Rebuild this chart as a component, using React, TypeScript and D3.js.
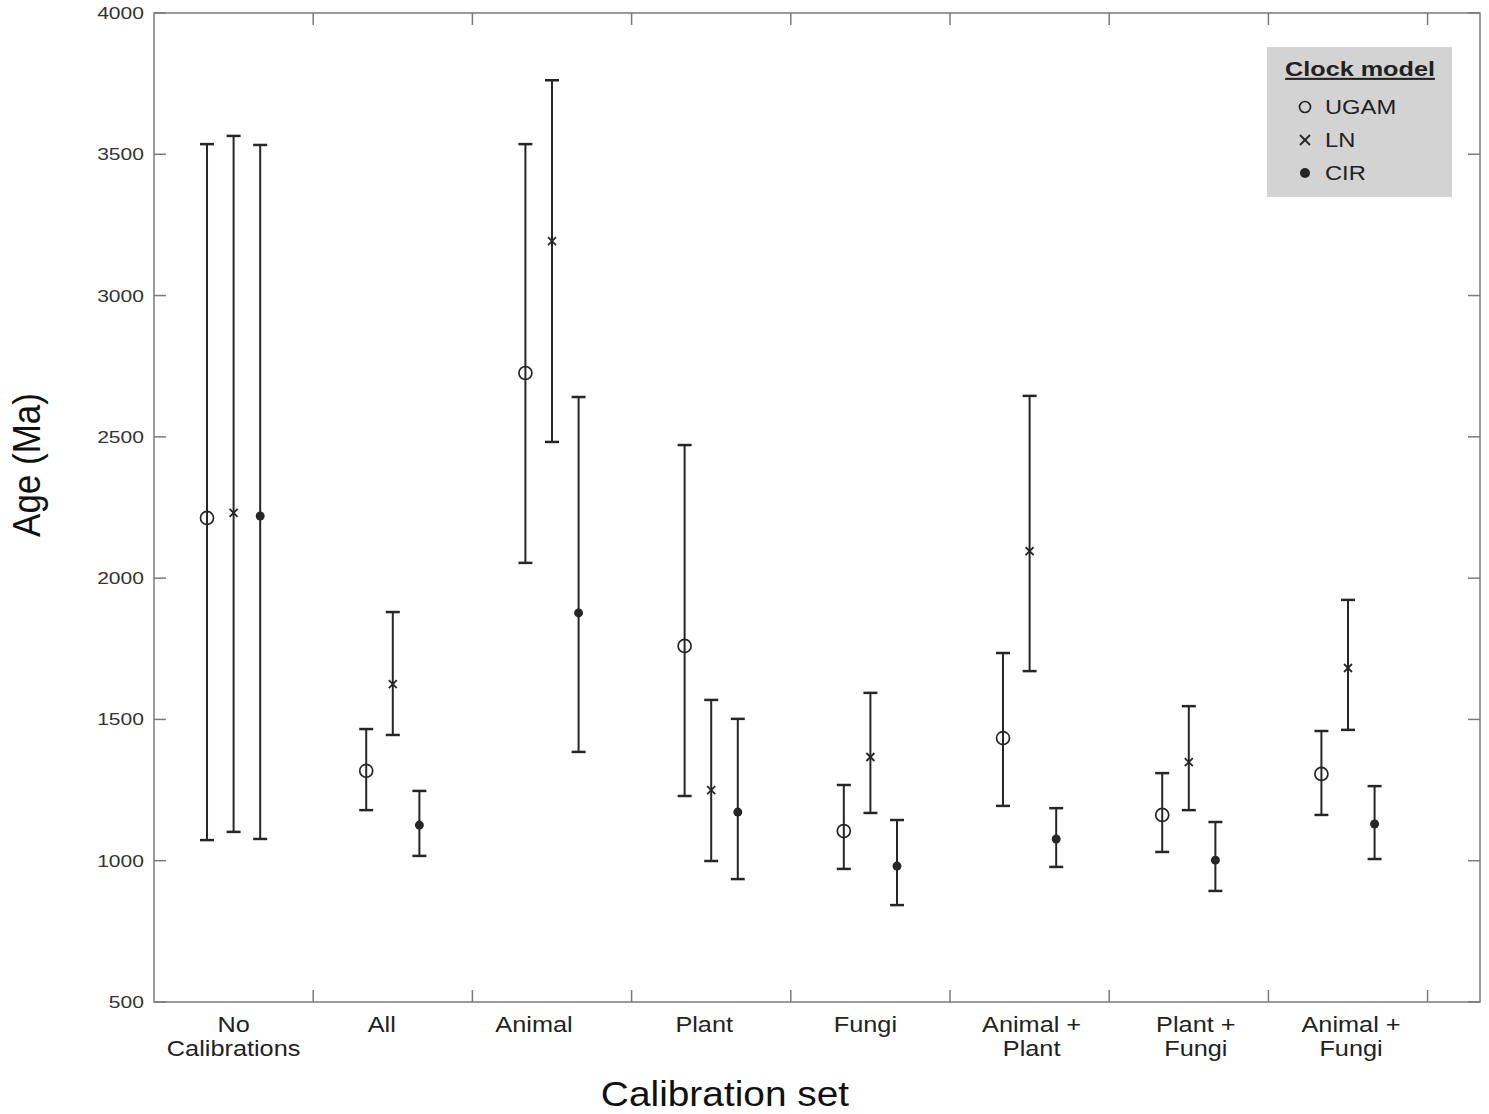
import React from "react";
import * as d3 from "d3";

const categories = [
  ["No", "Calibrations"],
  ["All"],
  ["Animal"],
  ["Plant"],
  ["Fungi"],
  ["Animal +", "Plant"],
  ["Plant +", "Fungi"],
  ["Animal +", "Fungi"],
];

const models = ["UGAM", "LN", "CIR"];

// median, upper, lower per category
const ugamMid = [2213, 1318, 2726, 1760, 1105, 1434, 1162, 1307];
const ugamHi = [3536, 1466, 3536, 2471, 1268, 1735, 1310, 1459];
const ugamLo = [1073, 1179, 2054, 1229, 971, 1194, 1031, 1162];

const lnMid = [2231, 1625, 3193, 1250, 1367, 2096, 1349, 1682];
const lnHi = [3565, 1880, 3762, 1569, 1594, 2645, 1547, 1923];
const lnLo = [1102, 1445, 2482, 999, 1169, 1671, 1179, 1463];

const cirMid = [2220, 1126, 1877, 1172, 981, 1077, 1002, 1130];
const cirHi = [3533, 1247, 2641, 1502, 1144, 1186, 1137, 1264];
const cirLo = [1077, 1017, 1385, 935, 843, 978, 893, 1006];

const yTicks = [500, 1000, 1500, 2000, 2500, 3000, 3500, 4000];

// layout: horizontal nudge (px) of each category label from its group centre
const labelNudge = [0, -11, -18, -7, -5, 2, 7, 3];

const W = 1489;
const H = 1114;
const L = 154, R = 1480, T = 13, B = 1002;
const AXIS = "#7a7a7a";
const INK = "#262626";
const FONT = "Arial, 'Liberation Sans', Helvetica, sans-serif";

function Txt(props: {
  x: number;
  y: number;
  sx?: number;
  size: number;
  anchor?: string;
  weight?: string;
  fill?: string;
  deco?: string;
  dy?: string;
  children: React.ReactNode;
}) {
  const { x, y, sx = 1.15, size, anchor = "start", weight = "normal", fill = "#222", deco, dy } = props;
  return (
    <text
      transform={`translate(${x},${y}) scale(${sx},1)`}
      textAnchor={anchor}
      fontSize={size}
      fontWeight={weight}
      fill={fill}
      textDecoration={deco}
      dy={dy}
    >
      {props.children}
    </text>
  );
}

export default function App() {
  const x = d3.scaleLinear().domain([0, (R - L) / 159.2]).range([L, R]);
  const y = d3.scaleLinear().domain([500, 4000]).range([B, T]);
  const offset = 0.167;
  const cap = 7;

  const series = [
    { name: "UGAM", mid: ugamMid, hi: ugamHi, lo: ugamLo, dx: -offset },
    { name: "LN", mid: lnMid, hi: lnHi, lo: lnLo, dx: 0 },
    { name: "CIR", mid: cirMid, hi: cirHi, lo: cirLo, dx: offset },
  ];

  const marker = (name: string, cx: number, cy: number, legend = false) => {
    if (name === "UGAM")
      return <circle cx={cx} cy={cy} r={legend ? 5.5 : 6.5} fill="none" stroke={INK} strokeWidth={1.7} />;
    if (name === "LN") {
      const s = legend ? 5 : 4;
      return (
        <g stroke={INK} strokeWidth={1.8}>
          <line x1={cx - s} y1={cy - s} x2={cx + s} y2={cy + s} />
          <line x1={cx - s} y1={cy + s} x2={cx + s} y2={cy - s} />
        </g>
      );
    }
    return <circle cx={cx} cy={cy} r={legend ? 5 : 4.5} fill={INK} />;
  };

  const xTickVals = d3.range(1, categories.length + 1);

  return (
    <svg
      width={W}
      height={H}
      style={{ position: "absolute", left: 0, top: 0, background: "#fff" }}
      fontFamily={FONT}
    >
      {/* frame */}
      <rect x={L} y={T} width={R - L} height={B - T} fill="none" stroke={AXIS} strokeWidth={1.5} />
      {/* y ticks left & right */}
      {yTicks.map((v) => (
        <g key={"yt" + v}>
          <line x1={L} x2={L + 12} y1={y(v)} y2={y(v)} stroke={AXIS} strokeWidth={1.5} />
          <line x1={R} x2={R - 12} y1={y(v)} y2={y(v)} stroke={AXIS} strokeWidth={1.5} />
          <Txt x={L - 10} y={y(v)} dy="0.35em" anchor="end" size={17} sx={1.24} fill="#333">
            {v}
          </Txt>
        </g>
      ))}
      {/* x ticks top & bottom */}
      {xTickVals.map((v) => (
        <g key={"xt" + v}>
          <line x1={x(v)} x2={x(v)} y1={B} y2={B - 12} stroke={AXIS} strokeWidth={1.5} />
          <line x1={x(v)} x2={x(v)} y1={T} y2={T + 12} stroke={AXIS} strokeWidth={1.5} />
        </g>
      ))}
      {/* category labels */}
      {categories.map((lines, i) => (
        <g key={"cl" + i}>
          {lines.map((ln, j) => (
            <Txt key={j} x={x(i + 0.5) + labelNudge[i]} y={1032 + j * 24} anchor="middle" size={22} sx={1.15}>
              {ln}
            </Txt>
          ))}
        </g>
      ))}
      {/* error bars */}
      {series.map((s) =>
        categories.map((_, i) => {
          const cx = x(i + 0.5 + s.dx);
          return (
            <g key={s.name + i} stroke={INK} strokeWidth={2}>
              <line x1={cx} x2={cx} y1={y(s.hi[i])} y2={y(s.lo[i])} />
              <line x1={cx - cap} x2={cx + cap} y1={y(s.hi[i])} y2={y(s.hi[i])} strokeWidth={2.5} />
              <line x1={cx - cap} x2={cx + cap} y1={y(s.lo[i])} y2={y(s.lo[i])} strokeWidth={2.5} />
            </g>
          );
        })
      )}
      {series.map((s) =>
        categories.map((_, i) => (
          <g key={"m" + s.name + i}>{marker(s.name, x(i + 0.5 + s.dx), y(s.mid[i]))}</g>
        ))
      )}
      {/* axis titles */}
      <text transform={`translate(40,465) rotate(-90) scale(1,1.12)`} textAnchor="middle" fontSize={35} fill="#111">
        Age (Ma)
      </text>
      <Txt x={725} y={1106} anchor="middle" size={35} sx={1.11} fill="#111">
        Calibration set
      </Txt>
      {/* legend */}
      <g>
        <rect x={1267} y={47} width={185} height={150} fill="#d3d3d3" />
        <Txt x={1360} y={76} anchor="middle" size={21} sx={1.2} weight="bold" deco="underline">
          Clock model
        </Txt>
        {models.map((m, i) => (
          <g key={"lg" + m}>
            {marker(m, 1305, 107 + i * 33, true)}
            <Txt x={1325} y={107 + i * 33} dy="0.35em" size={21} sx={1.13}>
              {m}
            </Txt>
          </g>
        ))}
      </g>
    </svg>
  );
}
